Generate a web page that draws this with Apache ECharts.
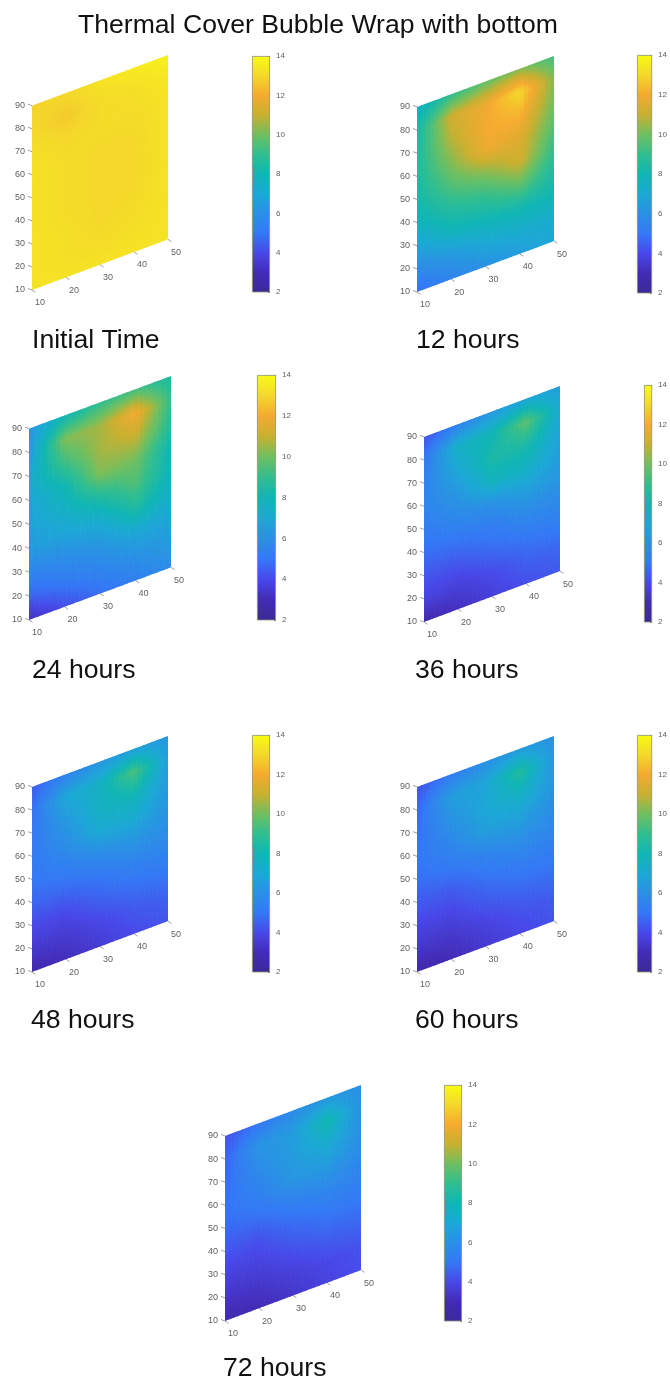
<!DOCTYPE html>
<html><head><meta charset="utf-8">
<style>html,body{margin:0;padding:0;background:#fff;overflow:hidden}#c{width:670px;height:1385px}</style>
<script src="https://cdn.jsdelivr.net/npm/echarts@6/dist/echarts.min.js"></script>
</head><body><div id="c"></div>
<script>
const chartTitle = 'Thermal Cover Bubble Wrap with bottom';
const xValues = [10, 20, 30, 40, 50];
const yValues = [90, 80, 70, 60, 50, 40, 30, 20, 10];
const colorTicks = [2, 4, 6, 8, 10, 12, 14];

const initialTime = [
 [12.9,13.0,13.3,13.5,13.7],[13.0,12.7,13.1,13.2,13.4],[13.2,13.0,13.1,13.1,13.3],
 [13.3,13.1,13.0,13.0,13.3],[13.3,13.1,13.0,13.0,13.3],[13.3,13.1,13.0,13.0,13.3],
 [13.3,13.2,13.0,13.1,13.3],[13.3,13.2,13.1,13.2,13.3],[13.3,13.3,13.3,13.3,13.3]];
const hours12 = [
 [7.5,9.0,9.8,10.2,9.3],[8.3,11.2,11.8,13.1,10.2],[8.5,10.8,12.0,12.2,10.0],
 [8.5,10.2,11.8,11.5,9.6],[8.2,9.5,10.2,11.2,9.0],[7.8,8.6,9.0,9.8,8.5],
 [6.8,7.8,8.0,8.2,8.0],[5.8,6.3,7.0,7.3,7.3],[4.8,5.5,6.0,6.5,7.0]];
const hours24 = [
 [6.2,8.0,9.0,9.3,8.5],[6.5,10.2,10.6,12.0,9.0],[7.2,9.2,10.6,11.0,8.7],
 [7.0,8.0,10.2,10.0,8.0],[6.8,7.5,8.5,9.5,7.8],[6.5,6.8,7.2,8.5,7.3],
 [5.5,5.8,6.2,7.0,6.8],[4.6,5.1,5.5,6.0,6.4],[3.2,4.1,4.8,5.3,5.9]];
const hours36 = [
 [4.2,5.4,6.3,6.8,6.6],[5.0,7.6,8.0,9.8,7.1],[5.4,7.0,8.4,8.4,6.8],
 [5.5,6.3,7.8,7.6,6.5],[5.2,5.7,6.0,6.6,6.2],[4.8,5.0,5.2,5.7,5.7],
 [4.3,4.3,4.7,5.0,5.2],[3.8,3.7,4.0,4.5,4.6],[2.8,3.2,3.7,4.1,4.4]];
const hours48 = [
 [4.4,5.4,6.2,6.6,6.3],[4.8,7.0,7.6,9.5,6.5],[5.0,6.4,7.6,8.0,6.4],
 [5.1,5.9,7.1,7.2,6.1],[5.0,5.3,5.8,6.2,5.9],[4.6,4.7,5.0,5.4,5.5],
 [4.0,4.0,4.5,4.8,5.0],[3.5,3.5,3.9,4.3,4.5],[2.8,3.1,3.6,4.0,4.3]];
const hours60 = [
 [4.2,5.2,6.0,6.4,6.1],[4.6,6.6,6.9,8.7,6.2],[4.8,6.1,7.0,7.6,6.2],
 [5.0,5.6,6.6,6.7,5.9],[4.8,5.1,5.5,5.9,5.6],[4.4,4.4,4.9,5.2,5.2],
 [3.9,3.9,4.4,4.7,4.8],[3.4,3.4,3.8,4.2,4.4],[2.7,3.0,3.5,3.9,4.2]];
const hours72 = [
 [4.2,5.0,5.8,6.3,6.0],[4.5,6.2,6.5,8.2,6.0],[4.7,5.8,6.5,7.2,6.0],
 [4.9,5.4,6.2,6.4,5.7],[4.7,4.9,5.3,5.6,5.4],[4.3,4.2,4.7,5.0,5.0],
 [3.8,3.8,4.2,4.5,4.6],[3.3,3.4,3.7,4.0,4.2],[2.8,3.0,3.4,3.8,4.1]];

const colorValues = [2,3,4,5,6,7,8,9,10,11,12,13,14];
const colorHex = ['#3B2A98','#432BB5','#4848E8','#3478F5','#2A90E5','#1CA8D5','#10B5B5','#30BE90','#6FBF60','#C8B030','#F5AA30','#F4D82A','#F9FB15'];

// plate: left,right,top(TR y),bottom(BL y); bar: left,right,top,bottom; caption: x,y
const panels = [
 {name:'Initial Time', v:initialTime, p:[32,168,55,290],  b:[252,270,56,292],  c:[32,340]},
 {name:'12 hours',     v:hours12,     p:[417,554,56,292], b:[637,656,55,293],  c:[416,340]},
 {name:'24 hours',     v:hours24,     p:[29,171,376,620], b:[257,276,375,620], c:[32,670]},
 {name:'36 hours',     v:hours36,     p:[424,560,386,622],b:[644,663,385,622], c:[415,670]},
 {name:'48 hours',     v:hours48,     p:[32,168,736,972], b:[252,270,735,972], c:[31,1020]},
 {name:'60 hours',     v:hours60,     p:[417,554,736,972],b:[637,656,735,972], c:[415,1020]},
 {name:'72 hours',     v:hours72,     p:[225,361,1085,1321],b:[444,462,1085,1321],c:[223,1368]}
];

const FONT = '"Liberation Sans", Arial, sans-serif';
const yTop = 112, rise = 22, xSpan = 40;       // vertical axis range incl. the skew of the plate
const skew = rise / xSpan;
const SUB = 8;

function hex(c){return [1,3,5].map(i=>parseInt(c.substr(i,2),16));}
const rgbStops = colorHex.map(hex);
function colorOf(v){
  const t = Math.max(0, Math.min(colorValues.length-1.0001, v - colorValues[0]));
  const i = Math.floor(t), f = t - i, a = rgbStops[i], b = rgbStops[i+1];
  return 'rgb(' + a.map((x,k)=>Math.round(x+(b[k]-x)*f)).join(',') + ')';
}
const barGradient = new echarts.graphic.LinearGradient(0,1,0,0,
  colorValues.map((v,i)=>({offset:(v-2)/12,color:colorHex[i]})));

const project = (api,x,y)=>api.coord([x, y + skew*(x-10)]);

function renderCell(params, api){
  const x0=api.value(0), x1=api.value(1), y0=api.value(2), y1=api.value(3);
  const a=api.value(4), b=api.value(5), c=api.value(6), d=api.value(7);
  const children=[];
  // rows drawn top to bottom so each small facet is overlapped by the next; no antialias seams
  for(let j=SUB-1;j>=0;j--) for(let i=0;i<SUB;i++){
    const u0=i/SUB,u1=(i+1)/SUB,w0=j/SUB,w1=(j+1)/SUB,um=(u0+u1)/2,wm=(w0+w1)/2;
    const val=(1-wm)*((1-um)*a+um*b)+wm*((1-um)*c+um*d);
    const col=colorOf(val);
    const xa=x0+(x1-x0)*u0, xb=Math.min(50,x0+(x1-x0)*u1+0.25);
    const ya=Math.max(10,y0+(y1-y0)*w0-0.25), yb=y0+(y1-y0)*w1;
    children.push({type:'polygon',silent:true,
      shape:{points:[project(api,xa,ya),project(api,xb,ya),project(api,xb,yb),project(api,xa,yb)]},
      style:{fill:col}});
  }
  return {type:'group',children};
}
function renderXTick(params, api){
  const x=api.value(0), pt=project(api,x,10);
  return {type:'group',children:[
    {type:'line',shape:{x1:pt[0],y1:pt[1],x2:pt[0]+3.5,y2:pt[1]+2.3},style:{stroke:'#777',lineWidth:0.7}},
    {type:'text',x:pt[0]+8,y:pt[1]+13,style:{text:String(x),fill:'#5f5f5f',fontSize:9,fontFamily:FONT,align:'center',verticalAlign:'middle'}}
  ]};
}
function renderYTick(params, api){
  const pt=project(api,10,api.value(0));
  return {type:'line',shape:{x1:pt[0],y1:pt[1],x2:pt[0]-4,y2:pt[1]-1.5},style:{stroke:'#777',lineWidth:0.7}};
}

const grid=[],xAxis=[],yAxis=[],series=[];
const titles=[{text:chartTitle,left:78,top:12,padding:0,textStyle:{fontFamily:FONT,fontSize:26.6,fontWeight:'normal',color:'#111'}}];
panels.forEach((pn,idx)=>{
  const [l,r,t,b]=pn.p, [bl,br,bt,bb]=pn.b;
  const gi=grid.length;
  grid.push({left:l,top:t,width:r-l,height:b-t});
  xAxis.push({gridIndex:gi,type:'value',min:10,max:50,show:false});
  yAxis.push({gridIndex:gi,type:'value',min:10,max:yTop,splitLine:{show:false},axisLine:{show:false},axisTick:{show:false},
    axisLabel:{customValues:yValues,margin:7,fontSize:9,fontFamily:FONT,color:'#5f5f5f'}});
  const cells=[];
  for(let r2=0;r2<yValues.length-1;r2++) for(let c2=0;c2<xValues.length-1;c2++){
    cells.push([xValues[c2],xValues[c2+1],yValues[r2+1],yValues[r2],
      pn.v[r2+1][c2],pn.v[r2+1][c2+1],pn.v[r2][c2],pn.v[r2][c2+1]]);
  }
  const common={type:'custom',coordinateSystem:'cartesian2d',xAxisIndex:gi,yAxisIndex:gi,silent:true,clip:false,animation:false};
  series.push(Object.assign({},common,{name:pn.name,renderItem:renderCell,data:cells}));
  series.push(Object.assign({},common,{renderItem:renderXTick,data:xValues.map(x=>[x,10])}));
  series.push(Object.assign({},common,{renderItem:renderYTick,data:yValues.map(y=>[y,10])}));

  const gb=grid.length;
  grid.push({left:bl,top:bt,width:br-bl,height:bb-bt});
  xAxis.push({gridIndex:gb,type:'category',data:[''],show:false});
  yAxis.push({gridIndex:gb,type:'value',position:'right',min:2,max:14,interval:2,splitLine:{show:false},
    axisLine:{show:false},axisTick:{show:true,inside:true,length:2,lineStyle:{color:'#555',width:0.7}},
    axisLabel:{margin:6,fontSize:8,fontFamily:FONT,color:'#5f5f5f',customValues:colorTicks}});
  series.push({type:'bar',xAxisIndex:gb,yAxisIndex:gb,barWidth:'100%',silent:true,animation:false,data:[14],
    itemStyle:{color:barGradient,borderColor:'#8f8f70',borderWidth:0.8},z:1});
  titles.push({text:pn.name,left:pn.c[0],top:pn.c[1]-13,padding:0,textStyle:{fontFamily:FONT,fontSize:26.6,fontWeight:'normal',color:'#111'}});
});

const chart=echarts.init(document.getElementById('c'),null,{renderer:'canvas',width:670,height:1385});
chart.setOption({animation:false,backgroundColor:'#fff',title:titles,grid,xAxis,yAxis,series,tooltip:{show:false}});
</script></body></html>
